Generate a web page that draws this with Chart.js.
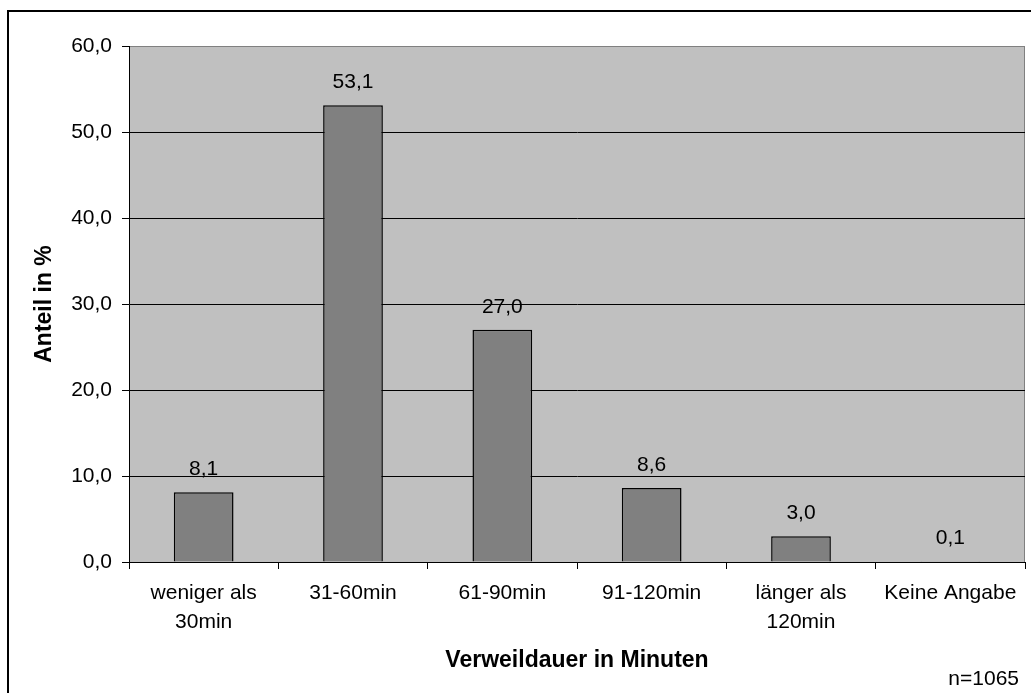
<!DOCTYPE html>
<html>
<head>
<meta charset="utf-8">
<script src="https://cdn.jsdelivr.net/npm/chart.js@4/dist/chart.umd.min.js"></script>
<style>
  html, body { margin: 0; padding: 0; background: #fff; }
  #wrap { width: 1031px; height: 693px; position: relative; }
</style>
</head>
<body>
<div id="wrap"><canvas id="c" width="1031" height="693"></canvas></div>
<script>
// Verweildauer der Besucher (Anteil in %)
const categories = [['weniger als', '30min'], '31-60min', '61-90min', '91-120min', ['länger als', '120min'], 'Keine Angabe'];
const shares = [8.1, 53.1, 27.0, 8.6, 3.0, 0.1];
const yMin = 0;
const yMax = 60;
const yStep = 10;
const sampleNote = 'n=1065';
const yTitle = 'Anteil in %';
const xTitle = 'Verweildauer in Minuten';

const FONT = "'Liberation Sans', Arial, sans-serif";
const fmt = v => v.toFixed(1).replace('.', ',');

// plot background, plot frame and outer frame
const framePlugin = {
  id: 'frames',
  beforeDraw(chart) {
    const { ctx, chartArea: a } = chart;
    ctx.save();
    ctx.fillStyle = '#fff';
    ctx.fillRect(0, 0, chart.width, chart.height);
    ctx.strokeStyle = '#000';
    ctx.lineWidth = 2;
    ctx.strokeRect(8, 11, chart.width + 20, chart.height + 20);
    ctx.fillStyle = '#c0c0c0';
    ctx.fillRect(a.left, a.top, a.right - a.left, a.bottom - a.top);
    ctx.strokeStyle = '#808080';
    ctx.lineWidth = 1;
    ctx.strokeRect(a.left + 0.5, a.top + 0.5, a.right - a.left - 1, a.bottom - a.top);
    ctx.restore();
  },
  afterDraw(chart) {
    const { ctx } = chart;
    ctx.save();
    ctx.fillStyle = '#000';
    ctx.font = `21px ${FONT}`;
    ctx.textAlign = 'right';
    ctx.textBaseline = 'middle';
    ctx.fillText(sampleNote, 1019, 679);
    ctx.restore();
  }
};

// value labels above each bar
const valueLabels = {
  id: 'valueLabels',
  afterDatasetsDraw(chart) {
    const { ctx } = chart;
    const meta = chart.getDatasetMeta(0);
    ctx.save();
    ctx.fillStyle = '#000';
    ctx.font = `21px ${FONT}`;
    ctx.textAlign = 'center';
    ctx.textBaseline = 'middle';
    meta.data.forEach((bar, i) => {
      ctx.fillText(fmt(shares[i]), bar.x, bar.y - 23);
    });
    ctx.restore();
  }
};

new Chart(document.getElementById('c'), {
  type: 'bar',
  data: {
    labels: categories,
    datasets: [{
      data: shares,
      backgroundColor: '#808080',
      borderColor: '#000',
      borderWidth: 1.5,
      barPercentage: 0.4,
      categoryPercentage: 1.0
    }]
  },
  options: {
    responsive: false,
    animation: false,
    devicePixelRatio: 1,
    layout: { padding: { left: 0, top: 46, right: 6, bottom: 0 } },
    plugins: { legend: { display: false }, tooltip: { enabled: false } },
    scales: {
      x: {
        offset: true,
        grid: {
          offset: true,
          drawOnChartArea: false,
          drawTicks: true,
          tickLength: 7,
          color: '#000'
        },
        border: { display: true, color: '#000', width: 1 },
        ticks: {
          color: '#000',
          padding: 10,
          maxRotation: 0,
          autoSkip: false,
          font: { family: FONT, size: 21, lineHeight: 1.38 }
        },
        title: {
          display: true,
          text: xTitle,
          color: '#000',
          font: { family: FONT, size: 23, weight: 'bold' },
          padding: { top: 0, bottom: 19 }
        },
        afterFit(scale) { scale.height = 131; }
      },
      y: {
        min: yMin,
        max: yMax,
        grid: {
          color: ctx => (ctx.tick && ctx.tick.value === yMax ? '#808080' : '#000'),
          tickColor: '#000',
          tickLength: 7,
          drawTicks: true
        },
        border: { display: true, color: '#000', width: 1 },
        ticks: {
          stepSize: yStep,
          color: '#000',
          padding: 10,
          font: { family: FONT, size: 21 },
          callback: v => fmt(v)
        },
        title: {
          display: true,
          text: yTitle,
          color: '#000',
          font: { family: FONT, size: 23, weight: 'bold' },
          padding: { top: 31, bottom: 0 }
        },
        afterFit(scale) { scale.width = 129; }
      }
    }
  },
  plugins: [framePlugin, valueLabels]
});
</script>
</body>
</html>
